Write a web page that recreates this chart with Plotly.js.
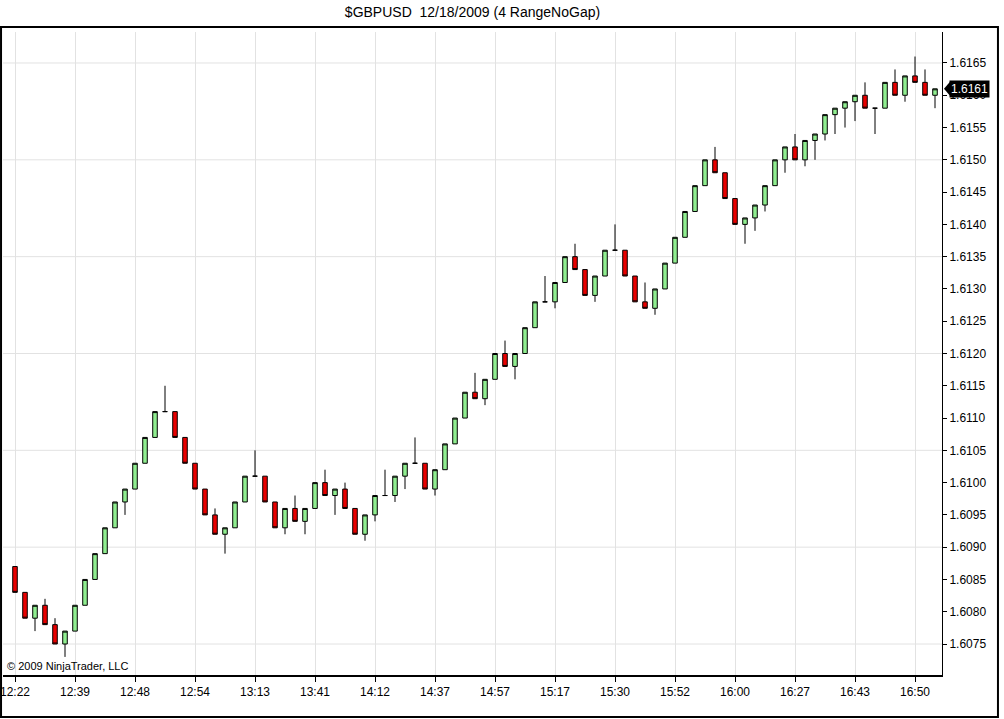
<!DOCTYPE html>
<html>
<head>
<meta charset="utf-8">
<script src="https://cdn.plot.ly/plotly-3.0.1.min.js"></script>
<style>
  html, body { margin: 0; padding: 0; background: #fff; }
  #chart { width: 1004px; height: 719px; }
</style>
</head>
<body>
<div id="chart"></div>
<script>
"use strict";

// Time labels shown under every 6th range bar.
const timeLabels = ["12:22", "12:39", "12:48", "12:54", "13:13", "13:41", "14:12", "14:37",
  "14:57", "15:17", "15:30", "15:52", "16:00", "16:27", "16:43", "16:50"];
const labelEvery = 6;

// 4-tick range bars.
const opens = [
  1.6087, 1.6083, 1.6079, 1.6081, 1.6078, 1.6075, 1.6077, 1.6081, 1.6085, 1.6089,
  1.6093, 1.6097, 1.6099, 1.6103, 1.6107, 1.6111, 1.6111, 1.6107, 1.6103, 1.6099,
  1.6095, 1.6092, 1.6093, 1.6097, 1.6101, 1.6101, 1.6097, 1.6093, 1.6096, 1.6094,
  1.6096, 1.6100, 1.6098, 1.6099, 1.6096, 1.6092, 1.6095, 1.6098, 1.6098, 1.6101,
  1.6103, 1.6103, 1.6099, 1.6102, 1.6106, 1.6110, 1.6114, 1.6113, 1.6116, 1.6120,
  1.6118, 1.6120, 1.6124, 1.6128, 1.6128, 1.6131, 1.6135, 1.6133, 1.6129, 1.6132,
  1.6136, 1.6136, 1.6132, 1.6128, 1.6127, 1.6130, 1.6134, 1.6138, 1.6142, 1.6146,
  1.6150, 1.6148, 1.6144, 1.6140, 1.6141, 1.6143, 1.6146, 1.6150, 1.6152, 1.6150,
  1.6153, 1.6154, 1.6157, 1.6158, 1.6159, 1.6160, 1.6158, 1.6158, 1.6162, 1.6160,
  1.6163, 1.6162, 1.6160
];
const highs = [
  1.6087, 1.6083, 1.6081, 1.6082, 1.6079, 1.6077, 1.6081, 1.6085, 1.6089, 1.6093,
  1.6097, 1.6099, 1.6103, 1.6107, 1.6111, 1.6115, 1.6111, 1.6107, 1.6103, 1.6099,
  1.6096, 1.6093, 1.6097, 1.6101, 1.6105, 1.6101, 1.6097, 1.6096, 1.6098, 1.6096,
  1.6100, 1.6102, 1.6099, 1.6100, 1.6096, 1.6095, 1.6098, 1.6102, 1.6101, 1.6103,
  1.6107, 1.6103, 1.6102, 1.6106, 1.6110, 1.6114, 1.6117, 1.6116, 1.6120, 1.6122,
  1.6120, 1.6124, 1.6128, 1.6132, 1.6131, 1.6135, 1.6137, 1.6133, 1.6132, 1.6136,
  1.6140, 1.6136, 1.6132, 1.6131, 1.6130, 1.6134, 1.6138, 1.6142, 1.6146, 1.6150,
  1.6152, 1.6148, 1.6144, 1.6141, 1.6143, 1.6146, 1.6150, 1.6152, 1.6154, 1.6153,
  1.6154, 1.6157, 1.6158, 1.6159, 1.6160, 1.6162, 1.6158, 1.6162, 1.6164, 1.6163,
  1.6166, 1.6164, 1.6161
];
const lows = [
  1.6083, 1.6079, 1.6077, 1.6078, 1.6075, 1.6073, 1.6077, 1.6081, 1.6085, 1.6089,
  1.6093, 1.6095, 1.6099, 1.6103, 1.6107, 1.6111, 1.6107, 1.6103, 1.6099, 1.6095,
  1.6092, 1.6089, 1.6093, 1.6097, 1.6101, 1.6097, 1.6093, 1.6092, 1.6094, 1.6092,
  1.6096, 1.6098, 1.6095, 1.6096, 1.6092, 1.6091, 1.6094, 1.6098, 1.6097, 1.6099,
  1.6103, 1.6099, 1.6098, 1.6102, 1.6106, 1.6110, 1.6113, 1.6112, 1.6116, 1.6118,
  1.6116, 1.6120, 1.6124, 1.6128, 1.6127, 1.6131, 1.6133, 1.6129, 1.6128, 1.6132,
  1.6136, 1.6132, 1.6128, 1.6127, 1.6126, 1.6130, 1.6134, 1.6138, 1.6142, 1.6146,
  1.6148, 1.6144, 1.6140, 1.6137, 1.6139, 1.6142, 1.6146, 1.6148, 1.6150, 1.6149,
  1.6150, 1.6153, 1.6154, 1.6155, 1.6156, 1.6158, 1.6154, 1.6158, 1.6160, 1.6159,
  1.6162, 1.6160, 1.6158
];
const closes = [
  1.6083, 1.6079, 1.6081, 1.6078, 1.6075, 1.6077, 1.6081, 1.6085, 1.6089, 1.6093,
  1.6097, 1.6099, 1.6103, 1.6107, 1.6111, 1.6111, 1.6107, 1.6103, 1.6099, 1.6095,
  1.6092, 1.6093, 1.6097, 1.6101, 1.6101, 1.6097, 1.6093, 1.6096, 1.6094, 1.6096,
  1.6100, 1.6098, 1.6099, 1.6096, 1.6092, 1.6095, 1.6098, 1.6098, 1.6101, 1.6103,
  1.6103, 1.6099, 1.6102, 1.6106, 1.6110, 1.6114, 1.6113, 1.6116, 1.6120, 1.6118,
  1.6120, 1.6124, 1.6128, 1.6128, 1.6131, 1.6135, 1.6133, 1.6129, 1.6132, 1.6136,
  1.6136, 1.6132, 1.6128, 1.6127, 1.6130, 1.6134, 1.6138, 1.6142, 1.6146, 1.6150,
  1.6148, 1.6144, 1.6140, 1.6141, 1.6143, 1.6146, 1.6150, 1.6152, 1.6150, 1.6153,
  1.6154, 1.6157, 1.6158, 1.6159, 1.6160, 1.6158, 1.6158, 1.6162, 1.6160, 1.6163,
  1.6162, 1.6160, 1.6161
];

const FONT = "'Liberation Sans', Arial, sans-serif";
const GRID = "#e2e2e2";
const barIndex = closes.map((_, i) => i);
const tickIdx = timeLabels.map((_, k) => k * labelEvery);
const lastClose = closes[closes.length - 1];

const yRange = [1.60702, 1.61698];
// Horizontal grid only every 15 pips (labels are every 5).
const gridStep = 0.0015;
const gridLevels = [];
for (let v = 1.6075; v < yRange[1]; v += gridStep) gridLevels.push(+v.toFixed(4));

const candles = {
  type: "candlestick",
  x: barIndex,
  open: opens,
  high: highs,
  low: lows,
  close: closes,
  whiskerwidth: 0,
  increasing: { fillcolor: "#90ee90", line: { color: "#000", width: 1 } },
  decreasing: { fillcolor: "#e80000", line: { color: "#000", width: 1 } },
  hoverinfo: "skip",
  showlegend: false,
};

const gridShapes = gridLevels.map((v) => ({
  type: "line", xref: "paper", yref: "y", layer: "below",
  x0: 0, x1: 1, y0: v, y1: v,
  line: { color: GRID, width: 1 },
}));

const layout = {
  width: 1004,
  height: 719,
  paper_bgcolor: "#fff",
  plot_bgcolor: "#fff",
  font: { family: FONT, size: 12, color: "#000" },
  title: {
    text: "$GBPUSD  12/18/2009 (4 RangeNoGap)",
    font: { family: FONT, size: 14, color: "#000" },
    x: 0.5,
    xref: "paper",
    y: 0.983,
    yanchor: "middle",
  },
  margin: { l: 3, r: 62, t: 32, b: 44 },
  showlegend: false,
  boxgap: 0.35,
  xaxis: {
    range: [-1.2, 92.7],
    rangeslider: { visible: false },
    tickmode: "array",
    tickvals: tickIdx,
    ticktext: timeLabels,
    ticklabeloverflow: "allow",
    ticks: "outside",
    ticklen: 5,
    tickcolor: "#000",
    tickfont: { family: FONT, size: 12, color: "#000" },
    showline: true,
    linecolor: "#000",
    linewidth: 1.5,
    showgrid: true,
    gridcolor: GRID,
    zeroline: false,
    fixedrange: true,
  },
  yaxis: {
    range: yRange,
    side: "right",
    dtick: 0.0005,
    tick0: 1.6075,
    tickformat: ".4f",
    ticks: "outside",
    ticklen: 4,
    tickcolor: "#000",
    tickfont: { family: FONT, size: 12, color: "#000" },
    showline: true,
    linecolor: "#000",
    linewidth: 1,
    showgrid: false,
    zeroline: false,
    fixedrange: true,
  },
  shapes: [
    ...gridShapes,
    // outer chart frame
    {
      type: "rect", xref: "paper", yref: "paper",
      x0: -0.0021, x1: 1.0596, y0: -0.0653, y1: 1.0078,
      line: { color: "#000", width: 2 }, fillcolor: "rgba(0,0,0,0)",
    },
    // pointer of the last-price tag
    {
      type: "path", xref: "paper", yref: "y",
      xsizemode: "pixel", ysizemode: "pixel",
      xanchor: 1, yanchor: lastClose,
      path: "M2,0 L8,7 L8,-7 Z",
      fillcolor: "#000", line: { width: 0 },
    },
  ],
  annotations: [
    {
      text: lastClose.toFixed(4),
      xref: "paper", yref: "y",
      x: 1, y: lastClose,
      xanchor: "left", yanchor: "middle",
      xshift: 7,
      showarrow: false,
      bgcolor: "#000",
      borderpad: 1,
      font: { family: FONT, size: 12, color: "#fff" },
    },
    {
      text: "© 2009 NinjaTrader, LLC",
      xref: "paper", yref: "paper",
      x: 0.002, y: 0,
      xanchor: "left", yanchor: "bottom",
      yshift: 1,
      showarrow: false,
      font: { family: FONT, size: 11, color: "#000" },
    },
  ],
};

Plotly.newPlot("chart", [candles], layout, { displayModeBar: false, staticPlot: true });
</script>
</body>
</html>
